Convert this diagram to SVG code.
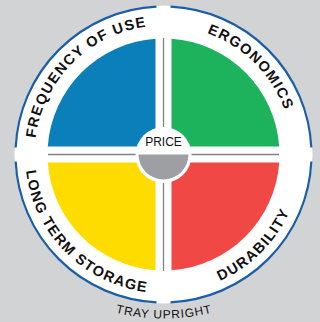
<svg xmlns="http://www.w3.org/2000/svg" width="320" height="322" viewBox="0 0 320 322">
<defs>
<style>
.lbl{font-family:"Liberation Sans",Arial,sans-serif;font-weight:bold;font-size:14.5px;letter-spacing:1.3px;fill:#111;}
.rim{fill:none;stroke:#1b5ea6;stroke-width:2.2;}
.div{stroke:#7f8386;stroke-width:1.3;fill:none;}
</style>
<path id="topArc" d="M34.5,154.5 A129,129 0 0 1 292.5,154.5"/>
<path id="botArc" d="M25,154.5 A138.5,138.5 0 0 0 302,154.5"/>
<path id="trayArc" d="M100,308 A200,200 0 0 0 228,308"/>
</defs>
<rect x="0" y="0" width="320" height="322" fill="#d1d3d4"/>
<circle cx="163.5" cy="154.5" r="149" fill="#fff"/>
<g id="rim">
<path class="rim" d="M15.67,147.5 A148,148 0 0 1 156.5,6.67"/>
<path class="rim" d="M170.5,6.67 A148,148 0 0 1 311.33,147.5"/>
<path class="rim" d="M311.33,161.5 A148,148 0 0 1 170.5,302.33"/>
<path class="rim" d="M156.5,302.33 A148,148 0 0 1 15.67,161.5"/>
</g>
<g id="connectors">
<line class="div" x1="163.5" y1="38" x2="163.5" y2="271"/>
<line class="div" x1="48" y1="154.5" x2="279" y2="154.5"/>
</g>
<g id="frequency-of-use">
<path d="M155.5,146.5 L155.5,38.78 A116,116 0 0 0 47.78,146.5 Z" fill="#0a7fba"/>
<text class="lbl"><textPath href="#topArc" startOffset="25%" text-anchor="middle">FREQUENCY OF USE</textPath></text>
</g>
<g id="ergonomics">
<path d="M171.5,146.5 L171.5,38.78 A116,116 0 0 1 279.22,146.5 Z" fill="#1db35c"/>
<text class="lbl"><textPath href="#topArc" startOffset="75%" text-anchor="middle">ERGONOMICS</textPath></text>
</g>
<g id="long-term-storage">
<path d="M155.5,162.5 L155.5,270.22 A116,116 0 0 1 47.78,162.5 Z" fill="#ffdc00"/>
<text class="lbl"><textPath href="#botArc" startOffset="25%" text-anchor="middle">LONG TERM STORAGE</textPath></text>
</g>
<g id="durability">
<path d="M171.5,162.5 L171.5,270.22 A116,116 0 0 0 279.22,162.5 Z" fill="#f04945"/>
<text class="lbl"><textPath href="#botArc" startOffset="75%" text-anchor="middle">DURABILITY</textPath></text>
</g>
<g id="price">
<circle cx="163.5" cy="155" r="28" fill="#fff"/>
<path d="M138.5,154.5 A25,25 0 0 0 188.5,154.5 Z" fill="#9d9fa2"/>
<text x="163.5" y="146" text-anchor="middle" font-family="Liberation Sans,Arial,sans-serif" font-size="12" fill="#111">PRICE</text>
</g>
<g id="tray-upright">
<text font-family="Liberation Sans,Arial,sans-serif" font-size="12" letter-spacing="0.8" fill="#111"><textPath href="#trayArc" startOffset="50%" text-anchor="middle">TRAY UPRIGHT</textPath></text>
</g>
</svg>
